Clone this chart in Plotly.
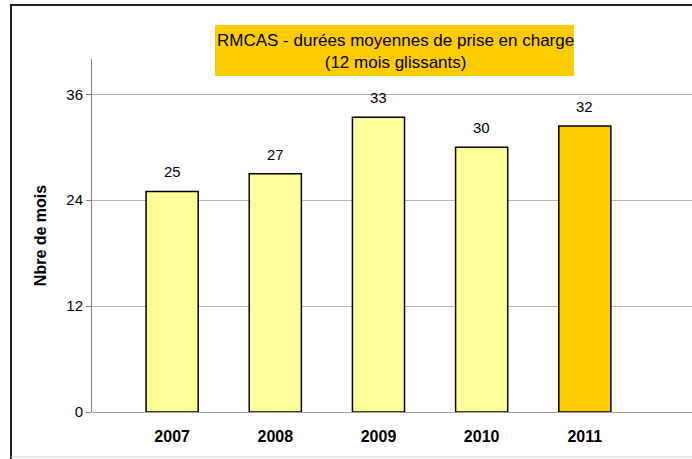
import plotly.graph_objects as go

years = ["2007", "2008", "2009", "2010", "2011"]
values = [25.0, 27.0, 33.4, 30.0, 32.4]
bar_colors = ["#FFFF99", "#FFFF99", "#FFFF99", "#FFFF99", "#FFCC00"]
y_ticks = [0, 12, 24, 36]
title_lines = ["RMCAS - durées moyennes de prise en charge", "(12 mois glissants)"]

W, H = 692, 459
FIGW = 704
ml, mr, mt, mb = 92, FIGW - W, 59, 47
pw, ph = W - ml, H - mt - mb

def px(x):
    return (x - ml) / pw

def py(y):
    return (H - mb - y) / ph

xs = list(range(len(years)))

fig = go.Figure()
fig.add_trace(go.Bar(
    x=xs, y=values,
    marker=dict(color=bar_colors, line=dict(color="#000000", width=1.5)),
    width=0.505,
    hoverinfo="skip",
))

for x, v in zip(xs, values):
    fig.add_annotation(x=x, y=v, text=f"{v:.0f}", showarrow=False,
                       yanchor="bottom", yshift=9,
                       font=dict(family="Liberation Sans, Arial", size=15, color="#000"))

fig.update_layout(
    width=FIGW, height=H,
    margin=dict(l=ml, r=mr, t=mt, b=mb),
    paper_bgcolor="white", plot_bgcolor="white",
    showlegend=False,
    font=dict(family="Liberation Sans, Arial", color="#000"),
    xaxis=dict(
        range=[-(172 - ml) / 103, 4 + (W - 585) / 103],
        tickmode="array", tickvals=xs, ticktext=years,
        tickfont=dict(size=16, family="Liberation Sans, Arial", weight="bold"),
        showgrid=False, zeroline=False, showline=False, ticks="",
        ticklabelstandoff=13,
    ),
    yaxis=dict(
        range=[0, 40], tickvals=y_ticks,
        showgrid=True, gridcolor="#B4B4B4", gridwidth=1,
        showline=True, linecolor="#808080", linewidth=1,
        ticks="outside", ticklen=5, tickcolor="#808080",
        tickfont=dict(size=15, family="Liberation Sans, Arial"),
        zeroline=True, zerolinecolor="#A0A0A0", zerolinewidth=1,
        title=dict(text="<b>Nbre de mois</b>", font=dict(size=16, family="Liberation Sans, Arial"), standoff=15),
    ),
    shapes=[
        dict(type="line", xref="paper", yref="paper", x0=px(11), x1=px(11), y0=py(4), y1=py(459), line=dict(color="#222", width=2)),
        dict(type="line", xref="paper", yref="paper", x0=px(10), x1=px(710), y0=py(5), y1=py(5), line=dict(color="#222", width=2)),
        dict(type="line", xref="paper", yref="paper", x0=px(11), x1=px(710), y0=py(457), y1=py(457), line=dict(color="#D0D0D0", width=1)),
        dict(type="rect", xref="paper", yref="paper", x0=px(215), x1=px(574), y0=py(76), y1=py(25), fillcolor="#FFCC00", line=dict(width=0), layer="below"),
    ],
    annotations=list(fig.layout.annotations) + [
        dict(xref="paper", yref="paper", x=px(395), y=py(51), xanchor="center", yanchor="middle",
             text="<br>".join(title_lines),
             showarrow=False, align="center", font=dict(size=17, family="Liberation Sans, Arial", color="#000")),
    ],
)

fig.write_html("out.html", config={"displayModeBar": False},
               post_script="document.body.style.margin='0px';document.body.style.overflow='hidden';")
